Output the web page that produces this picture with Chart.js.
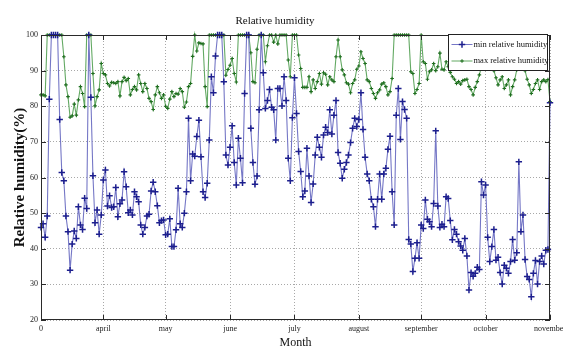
<!DOCTYPE html>
<html>
<head>
<meta charset="utf-8">
<script src="https://cdn.jsdelivr.net/npm/chart.js@4"></script>
<style>
  html, body { margin: 0; padding: 0; background: #fff; }
  #wrap { width: 563px; height: 349px; position: relative; }
</style>
</head>
<body>
<div id="wrap"><canvas id="chart"></canvas></div>
<script>
// daily values (index = day since start of record)
const minHumidity = [
  46, 47, 43.2, 49.2, 82, 100, 100, 100, 100, 76.3, 61.4, 59.1, 49.2, 44.8, 34, 41.3, 45, 42.9, 51.8, 46.7,
  45.4, 54.2, 51.3, 100, 82.5, 60.5, 47.3, 50.9, 44.1, 49.5, 59.3, 62.1, 52, 54.9, 51.6, 51.8, 57.2, 49, 52.6, 53.7,
  61.6, 57.4, 50.1, 50.9, 49.5, 56, 54.6, 53.2,
  46.7, 44.1, 46, 49.2, 49.7, 56.2, 58.7, 56, 52.1, 47.3, 47.9, 48.1, 43.9, 44.1, 48.4, 40.6, 40.6, 45.3, 57, 47,
  46, 50, 56, 76.6, 59.1, 66.6, 66, 71.5, 76.1, 65.8, 56, 54.4, 58.4, 70.5, 88.3, 83.8, 94.1, 100, 100, 100,
  86.9, 66.3, 63.5, 68.5, 74.5, 64.2, 57.9, 71, 65.4,
  58.5, 83.6, 100, 100, 73.8, 64.2, 58.1, 60.4, 79, 100, 89.4, 79.4, 81.6, 84.7, 79.7, 79, 70.5, 85, 85, 80.1,
  88.3, 81.6, 65.4, 59.1, 76.8, 88, 78, 67.3, 61.7, 54.6, 56.2, 68.2, 60.4, 53, 58.2, 66.3, 71.3, 68.5, 65.7, 71.9,
  74.1, 72.6, 79, 72.2, 77.5, 81.6, 67, 64, 59.8,
  62.3, 64.2, 66.3, 69.8, 73.8, 76.6, 74.3, 76.3, 83.8, 73.5, 65.7, 61, 59.1, 53.9, 51.8, 46.2, 53.9, 61, 53.9, 61,
  62.6, 67.9, 71.6, 56, 46.7, 77.5, 85, 70.7, 81.3, 79.1, 76.6, 42.6, 41.3, 33.6, 37.3, 41.7, 37.3, 46.7, 45.7, 53.7,
  48.3, 47.6, 46.2, 52.7, 73.1, 52, 46, 46.9, 46.2,
  54.6, 54.1, 47.9, 42.5, 45.4, 44.1, 42, 40.8, 39.6, 42.9, 38, 28.4, 33.3, 32.3, 33.1, 34.8, 34.2, 58.8, 55.1, 57.9,
  43.2, 36.4, 40.6, 45.4, 36.8, 37.6, 33.3, 30.1, 35.4, 34.5, 33.1, 36.4, 42.6, 36.8, 38.9, 64.4, 44.8, 49.5, 37, 32.2,
  31.4, 26.5, 33.1, 36.7, 30.1, 36.4, 38, 35.7, 39.6, 39.8, 81
];

const maxHumidity = [
  83.2, 83.2, 82.9, 100, 100, 100, 100, 100, 100, 100, 100, 93.9, 86, 82.7, 76.9, 77.3, 80.6, 77.5, 81.8, 85.5,
  83.6, 79.9, 100, 100, 100, 89.2, 80.1, 82.7, 84.6, 92, 89.2, 88.8, 86.4, 85.7, 86.7, 86.6, 86.4, 86.9, 82.9, 86.9,
  88.1, 87.2, 87.8, 83.2, 84.7, 85.5, 84.6, 88.8,
  86.4, 84.1, 86.4, 85, 82.2, 81.3, 79.1, 83.2, 85.5, 83.8, 82.2, 83.2, 80, 79.4, 82, 84.1, 82.7, 83.6, 83.4, 85,
  84.1, 79.7, 81.2, 85.5, 86.4, 94, 100, 95.5, 97.8, 97.6, 97.5, 85.5, 79.9, 100, 100, 100, 100, 100, 100, 100,
  100, 88.7, 90.3, 91.5, 93.4, 89.2, 86.8, 100, 100,
  100, 100, 100, 100, 95, 86.9, 86.6, 96, 100, 100, 100, 92.5, 97, 100, 100, 98, 100, 97.5, 100, 100,
  100, 100, 93, 88.3, 100, 100, 100, 94.4, 90.6, 85.3, 85.3, 85.3, 88.3, 84.1, 87.4, 85, 86.9, 89.2, 86.2, 89.4,
  89, 86, 88.3, 87.4, 86.9, 93.9, 98.6, 93.9, 90.2,
  88.8, 86.6, 86.2, 83.8, 86.4, 87.4, 90.4, 91.3, 95.3, 93.4, 92, 87.4, 86.9, 85, 83.6, 82.2, 83.8, 84.6, 86.2, 86.6,
  85.5, 83.2, 84.1, 87.8, 100, 100, 100, 100, 100, 100, 100, 100, 89.7, 89.2, 83.6, 84.7, 86.4, 100, 92.5, 92,
  87.6, 89.7, 90.2, 92, 90, 91.1, 94.9, 90.4, 90.2,
  92.5, 91.1, 89.5, 88.3, 87.6, 86.4, 86.9, 86.2, 87.2, 87.4, 87.6, 85.5, 84.7, 83.2, 85.3, 86.9, 88.8, 91.1, 93, 94,
  92, 93.5, 92, 90, 88, 86, 87.4, 88.3, 85, 86, 87.4, 83.2, 85.5, 87.4, 90.2, 92, 94, 92, 90, 87.6,
  86, 83.6, 84.7, 86.4, 87.4, 84.7, 86.9, 87.4, 86.9, 87.5, 81.3
];

const monthTicks = [0, 30, 60, 91, 122, 153, 183, 214, 245];
const monthLabels = ['0', 'april', 'may', 'june', 'july', 'august', 'september', 'october', 'november'];
const humidityTicks = [20, 30, 40, 50, 60, 70, 80, 90, 100];
const seriesNames = ['min relative humidity', 'max relative humidity'];

const SERIF = '"Liberation Serif", "DejaVu Serif", serif';

function toPoints(values) {
  return values.map((v, i) => ({ x: i, y: v }));
}

// matlab style box with inward tick marks
const axesBox = {
  id: 'axesBox',
  afterDatasetsDraw(chart) {
    const { ctx, chartArea: a, scales } = chart;
    ctx.save();
    ctx.strokeStyle = '#2a2a2a';
    ctx.lineWidth = 1;
    ctx.beginPath();
    monthTicks.forEach((v) => {
      const x = Math.round(scales.x.getPixelForValue(v)) + 0.5;
      ctx.moveTo(x, a.bottom); ctx.lineTo(x, a.bottom - 5);
      ctx.moveTo(x, a.top); ctx.lineTo(x, a.top + 5);
    });
    humidityTicks.forEach((v) => {
      const y = Math.round(scales.y.getPixelForValue(v)) + 0.5;
      ctx.moveTo(a.left, y); ctx.lineTo(a.left + 5, y);
      ctx.moveTo(a.right, y); ctx.lineTo(a.right - 5, y);
    });
    ctx.stroke();
    ctx.strokeRect(Math.round(a.left) + 0.5, Math.round(a.top) + 0.5,
      Math.round(a.width) - 1, Math.round(a.height) - 1);
    ctx.restore();
  }
};

// legend box in the upper right corner, like matlab's 'NorthEast'
const boxedLegend = {
  id: 'boxedLegend',
  afterDraw(chart) {
    const { ctx, chartArea: a } = chart;
    const w = 99, h = 36;
    const x0 = Math.round(a.right - 3 - w) + 0.5;
    const y0 = Math.round(a.top - 1) + 0.5;
    ctx.save();
    ctx.fillStyle = '#fff';
    ctx.fillRect(x0, y0, w, h);
    ctx.strokeStyle = '#222';
    ctx.lineWidth = 1;
    ctx.strokeRect(x0, y0, w, h);

    chart.data.datasets.forEach((ds, i) => {
      const y = y0 + 10 + i * 16.5;
      ctx.strokeStyle = ds.borderColor;
      ctx.lineWidth = 1;
      ctx.beginPath();
      ctx.moveTo(x0 + 3, y);
      ctx.lineTo(x0 + 24, y);
      ctx.stroke();
      // marker
      const r = ds.pointRadius;
      ctx.strokeStyle = ds.pointBorderColor;
      ctx.lineWidth = ds.pointBorderWidth;
      ctx.beginPath();
      ctx.moveTo(x0 + 13.5 - r, y); ctx.lineTo(x0 + 13.5 + r, y);
      ctx.moveTo(x0 + 13.5, y - r); ctx.lineTo(x0 + 13.5, y + r);
      ctx.stroke();
      ctx.fillStyle = '#111';
      ctx.font = '8.5px ' + SERIF;
      ctx.textBaseline = 'middle';
      ctx.textAlign = 'left';
      ctx.fillText(ds.label, x0 + 25, y);
    });
    ctx.restore();
  }
};

new Chart(document.getElementById('chart'), {
  type: 'line',
  data: {
    datasets: [
      {
        label: seriesNames[0],
        data: toPoints(minHumidity),
        borderColor: '#7577c6',
        borderWidth: 1.1,
        pointStyle: 'cross',
        pointRadius: 3.2,
        pointBorderWidth: 1.5,
        pointBorderColor: '#1d1f8e',
        pointBackgroundColor: '#1d1f8e',
        tension: 0,
        clip: 4,
      },
      {
        label: seriesNames[1],
        data: toPoints(maxHumidity),
        borderColor: '#63a963',
        borderWidth: 1.1,
        pointStyle: 'cross',
        pointRadius: 1.8,
        pointBorderWidth: 1.1,
        pointBorderColor: '#1f6e1f',
        pointBackgroundColor: '#1f6e1f',
        tension: 0,
        clip: 4,
      },
    ],
  },
  options: {
    responsive: true,
    maintainAspectRatio: false,
    animation: false,
    events: [],
    layout: { padding: { left: 0, right: 13, top: 0, bottom: 0 } },
    plugins: {
      legend: { display: false },
      tooltip: { enabled: false },
      title: {
        display: true,
        text: 'Relative humidity',
        color: '#111',
        font: { family: SERIF, size: 11, weight: 'normal', lineHeight: 1.2 },
        padding: { top: 15, bottom: 6.8 },
      },
    },
    scales: {
      x: {
        type: 'linear',
        min: 0,
        max: 245,
        afterBuildTicks: (scale) => {
          scale.ticks = monthTicks.map((v) => ({ value: v }));
        },
        afterFit: (scale) => {
          scale.height = 29;
          scale.paddingLeft = 0;
          scale.paddingRight = 0;
        },
        ticks: {
          autoSkip: false,
          maxRotation: 0,
          padding: 4,
          color: '#222',
          font: { family: SERIF, size: 8 },
          callback: (v) => monthLabels[monthTicks.indexOf(v)],
        },
        grid: { color: '#a8a8a8', lineWidth: 1, drawTicks: false, tickLength: 0 },
        border: { display: false, dash: [1, 2] },
        title: {
          display: true,
          text: 'Month',
          color: '#111',
          font: { family: SERIF, size: 12, lineHeight: 1 },
          padding: { top: 0, bottom: 0 },
        },
      },
      y: {
        min: 20,
        max: 100,
        afterBuildTicks: (scale) => {
          scale.ticks = humidityTicks.map((v) => ({ value: v }));
        },
        afterFit: (scale) => {
          scale.width = 41;
        },
        ticks: {
          padding: 3,
          color: '#222',
          font: { family: SERIF, size: 8 },
        },
        grid: { color: '#a8a8a8', lineWidth: 1, drawTicks: false, tickLength: 0 },
        border: { display: false, dash: [1, 2] },
        title: {
          display: true,
          text: 'Relative humidity(%)',
          color: '#111',
          font: { family: SERIF, size: 15, weight: 'bold', lineHeight: 1 },
          padding: { top: 13, bottom: 0 },
        },
      },
    },
  },
  plugins: [axesBox, boxedLegend],
});
</script>
</body>
</html>
